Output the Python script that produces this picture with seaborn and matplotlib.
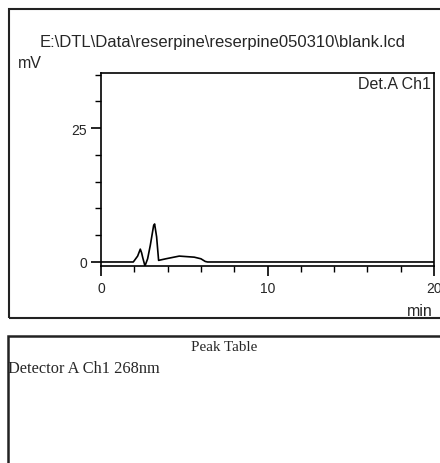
import matplotlib
matplotlib.use("Agg")
import matplotlib.pyplot as plt
import seaborn as sns
import pandas as pd
from matplotlib.patches import Rectangle
from matplotlib.ticker import MultipleLocator

sns.set_theme(style="white")
plt.rcParams['font.family'] = ['Liberation Sans', 'DejaVu Sans']

# Chromatogram trace (retention time in min, signal in mV)
time_min = [0.0, 1.94, 2.2, 2.36, 2.44, 2.5, 2.64, 2.8, 2.96, 3.16, 3.22, 3.34, 3.46,
            3.9, 4.7, 5.6, 6.0, 6.26, 6.4, 20.0]
signal_mv = [0.0, 0.0, 1.1, 2.4, 1.7, 0.9, -0.75, 0.6, 3.1, 6.8, 7.1, 4.7, 0.3,
             0.6, 1.1, 0.9, 0.6, 0.1, 0.0, 0.0]
x_ticks = [0, 10, 20]
y_ticks = [0, 25]

title_text = "E:\\DTL\\Data\\reserpine\\reserpine050310\\blank.lcd"
channel_label = "Det.A Ch1"
table_title = "Peak Table"
detector_label = "Detector A Ch1 268nm"

W, H = 440, 464
fig = plt.figure(figsize=(W / 100, H / 100), dpi=100)
fig.patch.set_facecolor("white")

def fx(px):
    return px / W

def fy(py):
    return 1 - py / H

# Panel frames
fig.add_artist(Rectangle((fx(9), fy(319)), fx(440) - fx(9) + 0.01, fy(10) - fy(319),
                         transform=fig.transFigure, fill=False, edgecolor="#222222", lw=1.5))
fig.add_artist(Rectangle((fx(8), fy(470)), fx(440) - fx(8) + 0.01, fy(337) - fy(470),
                         transform=fig.transFigure, fill=False, edgecolor="#222222", lw=1.8))

ax = fig.add_axes([fx(101), fy(267), fx(434) - fx(101), fy(74) - fy(267)])
df = pd.DataFrame({"time": time_min, "signal": signal_mv})
sns.lineplot(data=df, x="time", y="signal", ax=ax, color="black", lw=1.2)
ax.set_xlim(0, 20)
ax.set_ylim(-0.75, 35.3)
ax.set_xlabel("")
ax.set_ylabel("")
ax.set_xticks(x_ticks)
ax.set_yticks(y_ticks)
ax.xaxis.set_minor_locator(MultipleLocator(2))
ax.yaxis.set_minor_locator(MultipleLocator(5))
ax.tick_params(axis="both", which="major", direction="out", length=7, width=1.2,
               color="black", labelsize=10, pad=3, bottom=True, left=True)
ax.tick_params(axis="both", which="minor", direction="out", length=4, width=1.0,
               color="black", bottom=True, left=True)
ax.tick_params(axis="x", pad=4)
for s in ax.spines.values():
    s.set_visible(True)
    s.set_color("black")
    s.set_linewidth(1.2)
ax.set_facecolor("white")

ax.text(0.99, 0.985, channel_label, transform=ax.transAxes, ha="right", va="top", fontsize=11.5)

fig.text(fx(223), fy(43), title_text, ha="center", va="center", fontsize=12)
fig.text(fx(18), fy(64), "mV", ha="left", va="center", fontsize=11.5)
fig.text(fx(433), fy(312), "min", ha="right", va="center", fontsize=11.5)

fig.text(fx(224), fy(348), table_title, ha="center", va="center", fontsize=10.8,
         family=["Liberation Serif", "DejaVu Serif"])
fig.text(fx(8.5), fy(369), detector_label, ha="left", va="center", fontsize=11.8,
         family=["Liberation Serif", "DejaVu Serif"])

fig.savefig("out.png", dpi=100)
